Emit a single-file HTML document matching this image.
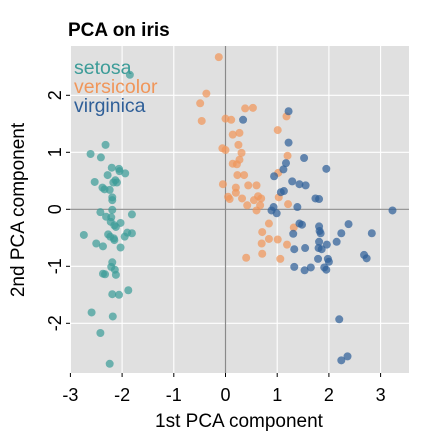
<!DOCTYPE html>
<html><head><meta charset="utf-8"><style>
html,body{margin:0;padding:0;background:#fff;width:432px;height:432px;overflow:hidden}
svg{font-family:"Liberation Sans",sans-serif}
</style></head><body>
<svg id="chart" width="432" height="432" viewBox="0 0 432 432" xmlns="http://www.w3.org/2000/svg">
<text x="68" y="36" font-size="19" font-weight="bold" fill="#000">PCA on iris</text>
<rect x="70" y="46" width="339" height="327" fill="#e0e0e0"/>
<g id="grid"></g><g id="zero"></g><g id="pts"></g><g id="axes"></g>
<g font-size="19.5">
<text x="74" y="74" fill="#3d9c98">setosa</text>
<text x="74" y="93" fill="#f0965a">versicolor</text>
<text x="74" y="112" fill="#2f5f98">virginica</text>
</g>
<text x="239" y="427" font-size="19" text-anchor="middle">1st PCA component</text>
<text transform="translate(24,210) rotate(-90)" font-size="19" text-anchor="middle">2nd PCA component</text>
</svg>
<script>
const xTicks=[-3,-2,-1,0,1,2,3];
const yTicks=[-2,-1,0,1,2];
const setosaX=[-1.85,-2.32,-2.61,-2.41,-2.20,-2.06,-2.28,-1.94,-2.05,-2.53,-2.13,-2.10,-2.17,-2.38,-2.34,-2.24,-2.19,-2.19,-2.42,-2.19,-1.81,-2.31,-2.21,-2.22,-2.03,-2.15,-2.12,-2.74,-2.27,-2.23,-2.16,-2.15,-1.95,-1.90,-1.81,-2.50,-2.37,-2.03,-2.19,-2.21,-2.14,-2.12,-2.37,-2.33,-1.88,-2.19,-2.06,-2.59,-2.18,-2.42,-2.24];
const setosaY=[2.36,1.13,0.97,0.91,0.73,0.71,0.60,0.63,0.67,0.48,0.51,0.47,0.47,0.38,0.35,0.34,0.21,0.16,-0.05,-0.01,-0.09,-0.13,-0.14,-0.22,-0.24,-0.28,-0.31,-0.45,-0.44,-0.48,-0.51,-0.54,-0.48,-0.41,-0.42,-0.60,-0.65,-0.67,-0.93,-1.01,-1.06,-1.15,-1.13,-1.14,-1.42,-1.49,-1.50,-1.81,-1.88,-2.17,-2.71];
const versicolorX=[-0.13,-0.37,-0.49,-0.46,0.38,0.53,0,0.11,0.14,0.27,0.25,0.31,-0.06,0,0.27,0.14,0.22,0.23,0.36,-0.05,0.20,0.20,0.44,0.60,0.05,0.08,0.32,0.55,0.63,0.69,1.01,1.18,1.20,1.02,1.03,1.21,0.42,0.67,0.60,0.84,0.71,0.84,1.01,0.70,1.19,0.71,0.40,1.06,1.32];
const versicolorY=[2.67,2.03,1.86,1.55,1.77,1.78,1.59,1.57,1.31,1.34,1.13,0.99,1.07,1.04,0.87,0.80,0.79,0.60,0.60,0.44,0.38,0.29,0.42,0.42,0.22,0.18,0.19,0.16,0.23,0.19,1.39,1.63,0.94,0.64,0.21,0.09,0.07,0.07,-0.02,-0.25,-0.40,-0.52,-0.53,-0.60,-0.62,-0.78,-0.85,-0.87,-0.32];
const virginicaX=[0.34,1.22,1.22,1.17,1.12,0.94,1.29,1.13,1.07,1.43,1.55,1.39,0.93,0.89,0.99,1.43,1.48,1.31,1.33,1.54,1.33,1.52,1.95,1.74,1.81,3.23,1.81,2.38,1.82,1.84,2.24,2.83,2.15,1.81,1.96,1.80,1.86,2.68,2.73,1.79,1.98,2.00,1.53,1.65,1.91,1.95,2.20,2.24,2.36];
const virginicaY=[1.57,1.72,1.17,0.81,0.70,0.58,0.49,0.32,0.30,0.44,0.42,0.04,0.04,-0.02,-0.07,-0.25,-0.27,-0.43,-0.70,-0.68,-1.01,0.90,0.71,0.19,0.18,-0.02,-0.30,-0.26,-0.38,-0.42,-0.42,-0.42,-0.57,-0.57,-0.62,-0.68,-0.70,-0.80,-0.86,-0.87,-0.87,-0.92,-1.07,-1.02,-1.02,-1.06,-1.93,-2.65,-2.58];
const NS='http://www.w3.org/2000/svg';
const X0=225.5,XS=51.7,Y0=209.3,YS=57;
function sx(v){return X0+v*XS;}
function sy(v){return Y0-v*YS;}
function mk(tag,attrs,parent){const e=document.createElementNS(NS,tag);for(const k in attrs)e.setAttribute(k,attrs[k]);parent.appendChild(e);return e;}
const grid=document.getElementById('grid'),zero=document.getElementById('zero'),pts=document.getElementById('pts'),axes=document.getElementById('axes');
xTicks.forEach(t=>{
  const l=mk('line',{x1:sx(t),x2:sx(t),y1:46,y2:373,stroke:'#fff','stroke-width':1.1},grid);
  
  
  const tk=mk('line',{x1:sx(t),x2:sx(t),y1:373,y2:377,stroke:'#000','stroke-width':1},axes);
  
  
  const tx=mk('text',{x:sx(t),y:401,'font-size':18,'text-anchor':'middle'},axes);
  tx.textContent=t;
  
  
});
yTicks.forEach(t=>{
  const l=mk('line',{x1:70,x2:409,y1:sy(t),y2:sy(t),stroke:'#fff','stroke-width':1.1},grid);
  
  
  const tk=mk('line',{x1:66,x2:70,y1:sy(t),y2:sy(t),stroke:'#000','stroke-width':1},axes);
  
  
  const tx=mk('text',{transform:`translate(61,${sy(t)}) rotate(-90)`,'font-size':18,'text-anchor':'middle'},axes);
  tx.textContent=t;
  
  
});
const zx=mk('line',{x1:sx(0),x2:sx(0),y1:46,y2:373,stroke:'#8a8a8a','stroke-width':1.2},zero);


const zy=mk('line',{x1:70,x2:409,y1:sy(0),y2:sy(0),stroke:'#8a8a8a','stroke-width':1.2},zero);


function series(xs,ys,col,name){
  xs.forEach((x,i)=>{
    const c=mk('circle',{cx:sx(x),cy:sy(ys[i]),r:4,fill:col,'fill-opacity':0.72},pts);
    
    
  });
}
series(setosaX,setosaY,'#3d9c98','setosa');
series(versicolorX,versicolorY,'#f0965a','versicolor');
series(virginicaX,virginicaY,'#2f5f98','virginica');
</script>
</body></html>
